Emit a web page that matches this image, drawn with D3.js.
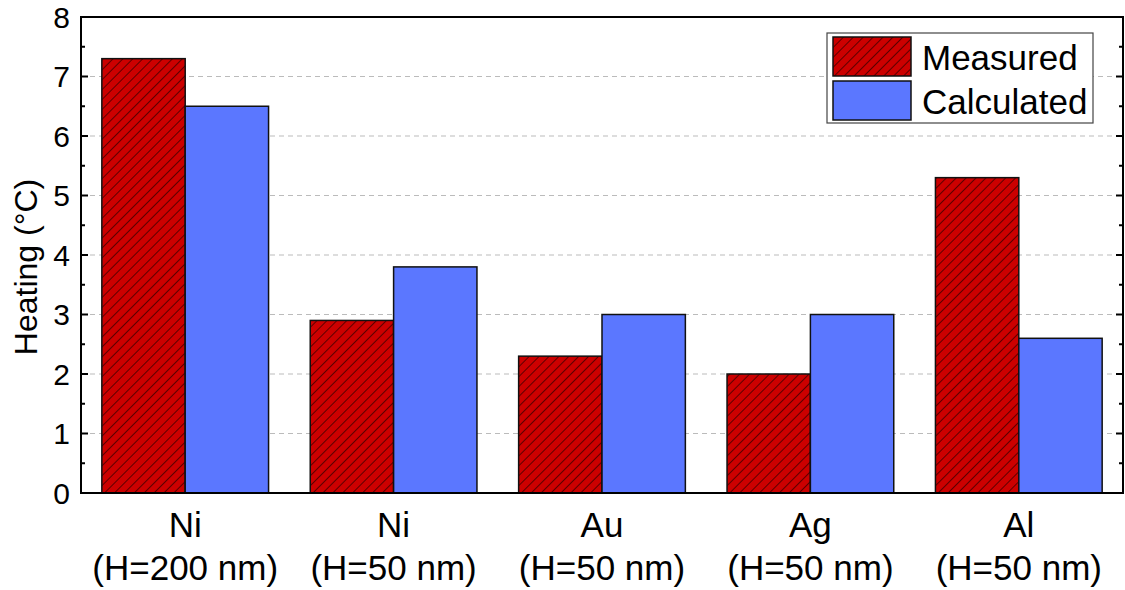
<!DOCTYPE html>
<html>
<head>
<meta charset="utf-8">
<script src="https://cdn.jsdelivr.net/npm/d3@7"></script>
<style>
  body { margin: 0; background: #fff; }
  text { font-family: "Liberation Sans", Arial, sans-serif; fill: #000; }
</style>
</head>
<body>
<svg id="chart"></svg>
<script>
const categories = ["Ni|(H=200 nm)", "Ni|(H=50 nm)", "Au|(H=50 nm)", "Ag|(H=50 nm)", "Al|(H=50 nm)"];
const measured = [7.3, 2.9, 2.3, 2.0, 5.3];
const calculated = [6.5, 3.8, 3.0, 3.0, 2.6];
const seriesNames = ["Measured", "Calculated"];
const yTicks = [0, 1, 2, 3, 4, 5, 6, 7, 8];

const width = 1125;
const height = 590;
const margin = { top: 17, right: 2, bottom: 97, left: 81 };

const svg = d3.select("#chart").attr("width", width).attr("height", height);

const defs = svg.append("defs");
const pat = defs.append("pattern")
  .attr("id", "hatch")
  .attr("patternUnits", "userSpaceOnUse")
  .attr("width", 7)
  .attr("height", 7)
  .attr("patternTransform", "rotate(45)");
pat.append("rect").attr("width", 7).attr("height", 7).attr("fill", "#cc0000");
pat.append("line")
  .attr("x1", 0).attr("y1", 0).attr("x2", 0).attr("y2", 7)
  .attr("stroke", "#000").attr("stroke-width", 1.1);

const data = categories.map((c, i) => ({ cat: c, values: [measured[i], calculated[i]] }));

const x0 = d3.scaleBand()
  .domain(categories)
  .range([margin.left, width - margin.right])
  .paddingInner(0.2)
  .paddingOuter(0.1);

const x1 = d3.scaleBand()
  .domain(seriesNames)
  .range([0, x0.bandwidth()]);

const y = d3.scaleLinear()
  .domain([0, 8])
  .range([height - margin.bottom, margin.top]);

const fills = { Measured: "url(#hatch)", Calculated: "#5b77ff" };

// gridlines
svg.append("g")
  .selectAll("line")
  .data(yTicks.filter(d => d > 0 && d < 8))
  .enter()
  .append("line")
  .attr("x1", margin.left)
  .attr("x2", width - margin.right)
  .attr("y1", d => y(d))
  .attr("y2", d => y(d))
  .attr("stroke", "#bbb")
  .attr("stroke-width", 1)
  .attr("stroke-dasharray", "5,4");

// bars
svg.append("g")
  .selectAll("g")
  .data(data)
  .enter()
  .append("g")
  .attr("transform", d => `translate(${x0(d.cat)},0)`)
  .selectAll("rect")
  .data(d => d.values.map((v, i) => ({ key: seriesNames[i], value: v })))
  .enter()
  .append("rect")
  .attr("x", d => x1(d.key))
  .attr("y", d => y(d.value))
  .attr("width", x1.bandwidth())
  .attr("height", d => y(0) - y(d.value))
  .attr("fill", d => fills[d.key])
  .attr("stroke", "#111")
  .attr("stroke-width", 1.5);

// frame
svg.append("rect")
  .attr("x", margin.left)
  .attr("y", margin.top)
  .attr("width", width - margin.right - margin.left)
  .attr("height", height - margin.bottom - margin.top)
  .attr("fill", "none")
  .attr("stroke", "#000")
  .attr("stroke-width", 2);

// minor + major ticks on left and right, pointing inward
const minorTicks = d3.range(0.5, 8, 1);
const tickG = svg.append("g").attr("stroke", "#000").attr("stroke-width", 2);
[[margin.left, 1], [width - margin.right, -1]].forEach(([xp, dir]) => {
  tickG.selectAll(null)
    .data(yTicks)
    .enter()
    .append("line")
    .attr("x1", xp)
    .attr("x2", xp + dir * 7)
    .attr("y1", d => y(d))
    .attr("y2", d => y(d));
  tickG.selectAll(null)
    .data(minorTicks)
    .enter()
    .append("line")
    .attr("x1", xp)
    .attr("x2", xp + dir * 4)
    .attr("y1", d => y(d))
    .attr("y2", d => y(d));
});

// y tick labels
svg.append("g")
  .selectAll("text")
  .data(yTicks)
  .enter()
  .append("text")
  .attr("x", margin.left - 11)
  .attr("y", d => y(d))
  .attr("dy", "0.36em")
  .attr("text-anchor", "end")
  .style("font-size", "30px")
  .text(d => d);

// x category labels (two lines)
const xl = svg.append("g")
  .selectAll("text")
  .data(categories)
  .enter()
  .append("text")
  .attr("text-anchor", "middle")
  .style("font-size", "35px");
xl.append("tspan")
  .attr("x", d => x0(d) + x0.bandwidth() / 2)
  .attr("y", 537)
  .text(d => d.split("|")[0]);
xl.append("tspan")
  .attr("x", d => x0(d) + x0.bandwidth() / 2)
  .attr("y", 580)
  .text(d => d.split("|")[1]);

// y axis title
svg.append("text")
  .attr("transform", "translate(37,267) rotate(-90)")
  .attr("text-anchor", "middle")
  .style("font-size", "32px")
  .text("Heating (°C)");

// legend
const legend = svg.append("g").attr("transform", "translate(827,33)");
legend.append("rect")
  .attr("width", 266)
  .attr("height", 90)
  .attr("fill", "#fff")
  .attr("stroke", "#444")
  .attr("stroke-width", 1.2);
const li = legend.selectAll("g")
  .data(seriesNames)
  .enter()
  .append("g")
  .attr("transform", (d, i) => `translate(6,${4 + i * 44})`);
li.append("rect")
  .attr("width", 78)
  .attr("height", 39)
  .attr("fill", d => fills[d])
  .attr("stroke", "#111")
  .attr("stroke-width", 1.5);
li.append("text")
  .attr("x", 89)
  .attr("y", 20)
  .attr("dy", "0.36em")
  .style("font-size", "35px")
  .text(d => d);
</script>
</body>
</html>
